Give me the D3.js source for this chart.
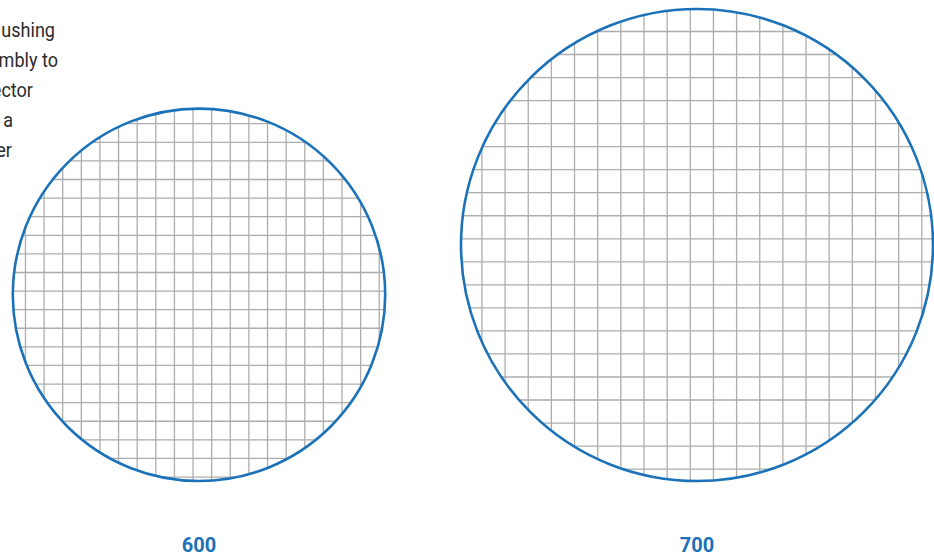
<!DOCTYPE html>
<html>
<head>
<meta charset="utf-8">
<script src="https://cdn.jsdelivr.net/npm/d3@7"></script>
<style>
  body { margin: 0; background: #fff; }
  svg { display: block; }
</style>
</head>
<body>
<div id="chart"></div>
<script>
// wafers: label, radius (relative to the larger one), die pitch (same units)
var waferLabels = ["600", "700"],
    waferRadius = [0.789, 1.0],
    diePitchX = [0.0789, 0.0981],
    diePitchY = [0.0788, 0.0976],
    // grid phase relative to wafer centre, as a fraction of the pitch
    gridShiftX = [-0.32, -0.29],
    gridShiftY = [-0.2, -0.27];

// visible tail of the side note (cut by the left edge)
var noteLines = ["ushing", "mbly to", "ector", "a", "er"],
    noteEnds = [55, 58, 33, 13, 12];

var width = 934,
    height = 556,
    baseY = 481;

var svg = d3.select("#chart").append("svg")
    .attr("width", width)
    .attr("height", height);

var r = d3.scaleLinear()
    .domain([0, 1])
    .range([0, 236]);

var x = d3.scalePoint()
    .domain(waferLabels)
    .range([199, 697]);

var wafers = waferLabels.map(function(d, i) {
  return {
    label: d,
    r: waferRadius[i],
    px: diePitchX[i],
    py: diePitchY[i],
    sx: gridShiftX[i],
    sy: gridShiftY[i]
  };
});

var defs = svg.append("defs");

defs.selectAll("clipPath")
    .data(wafers)
  .enter().append("clipPath")
    .attr("id", function(d, i) { return "wafer-clip-" + i; })
  .append("circle")
    .attr("cx", function(d) { return x(d.label); })
    .attr("cy", function(d) { return baseY - r(d.r); })
    .attr("r", function(d) { return r(d.r); });

var wafer = svg.selectAll(".wafer")
    .data(wafers)
  .enter().append("g")
    .attr("class", "wafer");

// die grid, clipped to the wafer
wafer.append("g")
    .attr("clip-path", function(d, i) { return "url(#wafer-clip-" + i + ")"; })
    .each(function(d) {
      var g = d3.select(this),
          cx = x(d.label),
          cy = baseY - r(d.r),
          rad = r(d.r),
          n = Math.ceil(d.r / Math.min(d.px, d.py)) + 2,
          ks = d3.range(-n, n + 1);

      g.selectAll("line.v")
          .data(ks)
        .enter().append("line")
          .attr("class", "v")
          .attr("x1", function(k) { return cx + r((k + d.sx) * d.px); })
          .attr("x2", function(k) { return cx + r((k + d.sx) * d.px); })
          .attr("y1", cy - rad)
          .attr("y2", cy + rad);

      g.selectAll("line.h")
          .data(ks)
        .enter().append("line")
          .attr("class", "h")
          .attr("y1", function(k) { return cy + r((k + d.sy) * d.py); })
          .attr("y2", function(k) { return cy + r((k + d.sy) * d.py); })
          .attr("x1", cx - rad)
          .attr("x2", cx + rad);

      g.selectAll("line")
          .attr("stroke", "#adadad")
          .attr("stroke-width", 1.3);
    });

wafer.append("circle")
    .attr("cx", function(d) { return x(d.label); })
    .attr("cy", function(d) { return baseY - r(d.r); })
    .attr("r", function(d) { return r(d.r); })
    .attr("fill", "none")
    .attr("stroke", "#1b72b8")
    .attr("stroke-width", 2.6);

wafer.append("text")
    .attr("x", function(d) { return x(d.label); })
    .attr("y", 552)
    .attr("text-anchor", "middle")
    .attr("font-family", "Roboto, 'DejaVu Sans', sans-serif")
    .attr("font-weight", 700)
    .attr("font-size", "20px")
    .attr("fill", "#1b72b8")
    .text(function(d) { return d.label; });

// slightly condensed note text
svg.append("g")
    .attr("class", "note")
  .selectAll("text")
    .data(noteLines)
  .enter().append("text")
    .attr("transform", function(d, i) {
      return "translate(" + noteEnds[i] + "," + (37 + i * 29.9) + ") scale(0.86,1)";
    })
    .attr("text-anchor", "end")
    .attr("font-family", "Roboto, 'DejaVu Sans', sans-serif")
    .attr("font-size", "21px")
    .attr("fill", "#2b2b2b")
    .text(function(d) { return d; });
</script>
</body>
</html>
